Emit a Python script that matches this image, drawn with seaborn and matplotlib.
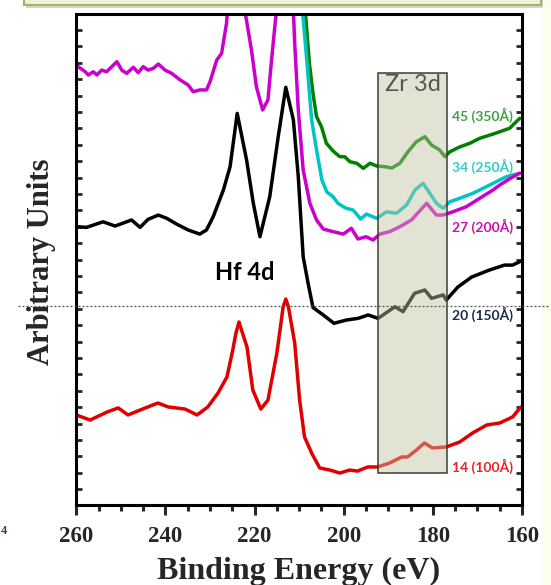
import matplotlib
matplotlib.use("Agg")
import matplotlib.pyplot as plt
import matplotlib.patches as mpatches
import matplotlib.lines as mlines
from matplotlib.ticker import MultipleLocator, NullFormatter
import pandas as pd
import seaborn as sns

# XPS spectra: binding energy (eV) and stacked intensity (arb. units) per film
e_14 = [260.0, 256.9, 253.1, 250.6, 248.4, 245.7, 241.7, 239.4, 235.6, 232.9, 230.5, 228.2,
        226.2, 224.9, 224.2, 223.5, 222.7, 221.7, 220.4, 218.6, 217.0, 215.0, 213.6, 213.0,
        212.4, 211.0, 209.9, 208.8, 207.2, 205.4, 203.1, 200.9, 198.7, 196.9, 194.6, 192.4,
        189.7, 187.0, 185.7, 183.7, 181.9, 180.1, 177.0, 174.0, 171.1, 167.9, 165.0, 162.1, 160.3]
i_14 = [5.52, 5.21, 5.70, 5.95, 5.52, 5.82, 6.25, 6.01, 5.88, 5.52, 6.01, 6.86,
        7.84, 9.48, 10.5, 11.19, 10.5, 9.66, 7.04, 5.88, 6.43, 9.30, 12.1, 12.59,
        12.1, 9.91, 6.43, 4.18, 3.20, 2.29, 2.16, 1.98, 2.16, 2.10, 2.35, 2.35,
        2.59, 2.96, 2.96, 3.38, 3.81, 3.51, 3.57, 3.87, 4.42, 4.91, 5.03, 5.40, 6.0]

e_20 = [259.8, 257.7, 254.0, 251.3, 247.6, 245.7, 243.9, 241.6, 239.7, 237.5, 234.9, 232.3,
        230.8, 229.3, 227.0, 225.5, 223.9, 221.8, 220.3, 218.8, 216.6, 214.7, 213.0, 211.3,
        210.2, 209.1, 208.0, 206.9, 204.6, 202.2, 199.4, 196.8, 194.5, 192.3, 188.5, 186.7,
        184.1, 181.8, 180.3, 177.7, 177.0, 174.4, 171.3, 167.3, 163.9, 162.1, 160.5]
i_20 = [17.0, 16.96, 17.30, 17.04, 17.41, 16.96, 17.45, 17.71, 17.51, 17.16, 16.80, 16.55,
        16.80, 17.6, 19.24, 20.66, 23.91, 21.07, 18.45, 16.39, 18.83, 22.49, 25.50, 23.51,
        20.05, 15.17, 13.55, 12.07, 11.62, 11.11, 11.31, 11.41, 11.62, 11.41, 12.12, 11.82,
        12.94, 13.14, 12.63, 12.84, 12.53, 13.32, 13.93, 14.36, 14.66, 14.66, 14.87]

e_27 = [259.6, 258.0, 257.3, 256.2, 255.4, 254.3, 253.2, 250.9, 249.8, 248.7, 247.2, 246.1,
        245.0, 243.9, 242.7, 241.6, 240.1, 238.6, 236.7, 234.9, 233.8, 232.3, 230.8, 230.0,
        228.5, 227.4, 226.3, 224.0, 222.2, 220.7, 219.6, 218.2, 217.0, 216.2, 215.1, 213.2,
        211.3, 211.0, 210.2, 209.1, 207.6, 206.1, 204.6, 202.4, 200.1, 198.3, 196.8, 195.0,
        193.4, 191.9, 189.7, 187.4, 184.8, 181.4, 179.2, 177.7, 175.5, 172.5, 169.5, 166.5,
        165.0, 162.0, 160.5]
i_27 = [26.76, 26.45, 26.25, 26.45, 26.25, 26.55, 26.45, 27.06, 26.55, 26.35, 26.72, 26.39,
        26.76, 26.55, 26.66, 26.92, 26.55, 26.35, 25.95, 25.64, 25.23, 25.34, 25.34, 25.84,
        27.16, 27.57, 29.40, 38.0, 30.2, 27.77, 25.54, 24.12, 24.73, 27.16, 30.2, 40.0,
        30.2, 28.18, 24.12, 20.46, 18.43, 17.41, 16.86, 16.70, 16.55, 16.90, 16.25, 16.39,
        16.19, 16.55, 16.70, 17.00, 17.41, 18.43, 17.71, 17.71, 17.91, 18.22, 18.73, 19.24,
        19.54, 20.05, 20.26]

e_34 = [210.3, 208.3, 207.2, 206.1, 204.9, 203.8, 202.4, 201.3, 200.1, 199.4, 197.9, 196.2,
        194.9, 192.6, 190.4, 188.2, 185.9, 184.0, 182.2, 180.7, 179.2, 177.7, 176.2, 174.0,
        171.0, 168.0, 165.0, 163.5, 160.5]
i_34 = [33.5, 27.16, 23.51, 21.68, 19.85, 19.12, 18.83, 18.43, 18.22, 18.12, 18.02, 17.47,
        17.77, 17.51, 17.91, 17.82, 18.32, 19.24, 19.65, 19.04, 18.43, 18.12, 18.52, 18.73,
        19.04, 19.44, 19.85, 20.05, 20.26]

e_45 = [209.6, 207.7, 206.9, 206.1, 205.0, 203.9, 202.4, 200.9, 199.8, 198.6, 197.1, 195.6,
        194.1, 192.6, 190.8, 189.2, 187.4, 185.6, 183.7, 181.8, 180.3, 178.5, 177.3, 176.2,
        174.0, 171.7, 169.5, 166.5, 165.0, 162.8, 160.5]
i_45 = [33.5, 26.96, 25.13, 23.71, 23.10, 22.09, 21.62, 21.27, 21.27, 20.96, 20.87, 20.56,
        20.87, 20.70, 20.66, 20.58, 20.87, 21.57, 22.18, 22.49, 21.98, 21.68, 21.27, 21.57,
        21.86, 22.09, 22.39, 22.65, 22.79, 23.0, 23.61]

samples = ["45 (350Å)", "34 (250Å)", "27 (200Å)", "20 (150Å)", "14 (100Å)"]
line_colors = ["#008000", "#00c4c4", "#cc00cc", "#000000", "#e00000"]
label_colors = ["#44a044", "#33cccc", "#cc11aa", "#1c2b4a", "#ee2222"]
label_y = [23.8, 20.66, 17.0, 11.68, 2.37]

zr_region = (176.8, 192.3)
zr_height = (2.0, 26.4)

frames = []
for name, e, i in zip(samples, [e_45, e_34, e_27, e_20, e_14], [i_45, i_34, i_27, i_20, i_14]):
    frames.append(pd.DataFrame({"energy": e, "intensity": i, "sample": name}))
df = pd.concat(frames, ignore_index=True)

sns.set_theme(style="ticks")
plt.rcParams["font.family"] = ["Liberation Serif", "DejaVu Serif"]

fig = plt.figure(figsize=(5.51, 5.85), dpi=100)
ax = fig.add_axes([0.1385, 0.1359, 0.8089, 0.8410])

sns.lineplot(data=df, x="energy", y="intensity", hue="sample", hue_order=samples,
             palette=line_colors, sort=False, estimator=None, linewidth=2.5,
             legend=False, ax=ax)
for ln in ax.lines:
    ln.set_solid_joinstyle("round")
    ln.set_solid_capstyle("round")

ax.set_xlim(260, 160)
ax.set_ylim(0, 30)

# Zr 3d window
box = mpatches.Rectangle((zr_region[0], zr_height[0]), zr_region[1] - zr_region[0],
                         zr_height[1] - zr_height[0], facecolor="#c3c3a0", alpha=0.45,
                         edgecolor="none", zorder=5)
ax.add_patch(box)
ax.add_patch(mpatches.Rectangle((zr_region[0], zr_height[0]), zr_region[1] - zr_region[0],
                                zr_height[1] - zr_height[0], facecolor="none",
                                edgecolor="#3a3a3a", linewidth=1.1, zorder=6))
ax.text(sum(zr_region) / 2, 26.3, "Zr 3d", ha="center", va="top", fontsize=17,
        family=["Lato", "DejaVu Sans"], color="#555555", zorder=7)

ax.text(222.1, 14.18, "Hf 4d", ha="center", va="center", fontsize=17, fontweight="bold",
        family=["Lato", "DejaVu Sans"], color="black", zorder=7)

for name, col, yv in zip(samples, label_colors, label_y):
    ax.text(175.8, yv, name, ha="left", va="center", fontsize=10, fontweight="bold",
            family=["Lato", "DejaVu Sans"], color=col, zorder=7)

# axes styling
for sp in ax.spines.values():
    sp.set_linewidth(2.2)
    sp.set_color("black")
ax.xaxis.set_major_locator(MultipleLocator(20))
ax.xaxis.set_minor_locator(MultipleLocator(5))
ax.yaxis.set_major_locator(MultipleLocator(1))
ax.yaxis.set_major_formatter(NullFormatter())
ax.tick_params(axis="x", which="major", direction="out", length=7, width=2.2,
               bottom=True, top=False, pad=8, labelsize=16.5)
ax.tick_params(axis="x", which="minor", direction="out", length=4.5, width=2.2,
               bottom=True, top=False)
ax.tick_params(axis="y", which="major", direction="in", length=4.5, width=2,
               left=True, right=True, labelleft=False)
for lbl in ax.get_xticklabels():
    lbl.set_fontweight("bold")

ax.set_xlabel("Binding Energy (eV)", fontsize=23, fontweight="bold")
ax.xaxis.label.set_va("center")
ax.xaxis.set_label_coords(0.4985, -0.135)
ax.set_ylabel("Arbitrary Units", fontsize=22, fontweight="bold")
ax.yaxis.label.set_va("center")
ax.yaxis.set_label_coords(-0.079, 0.495)

# page elements around the chart
W, H = 551.0, 585.0
fig.patches.append(mpatches.Rectangle((541 / W, 0), 10 / W, 1, transform=fig.transFigure,
                                      facecolor="#fdfdee", edgecolor="none", zorder=0))
fig.patches.append(mpatches.Rectangle((26 / W, 1 - 8 / H), 517 / W, 0.05,
                                      transform=fig.transFigure, facecolor="#888888",
                                      alpha=0.35, edgecolor="none", zorder=1))
fig.patches.append(mpatches.Rectangle((24 / W, 1 - 5 / H), 517 / W, 0.05,
                                      transform=fig.transFigure, facecolor="#eef4dc",
                                      edgecolor="#9bbb59", linewidth=1.5, zorder=2))
fig.lines.append(mlines.Line2D([18 / W, 549 / W], [1 - 306 / H, 1 - 306 / H],
                               transform=fig.transFigure, color="#555555", linewidth=0.9,
                               linestyle=(0, (1.6, 1.6)), zorder=20))
fig.text(1 / W, 1 - 531 / H, "4", fontsize=9, fontweight="bold", color="#24406e",
         ha="left", va="center")

fig.savefig("out.png", dpi=100)
